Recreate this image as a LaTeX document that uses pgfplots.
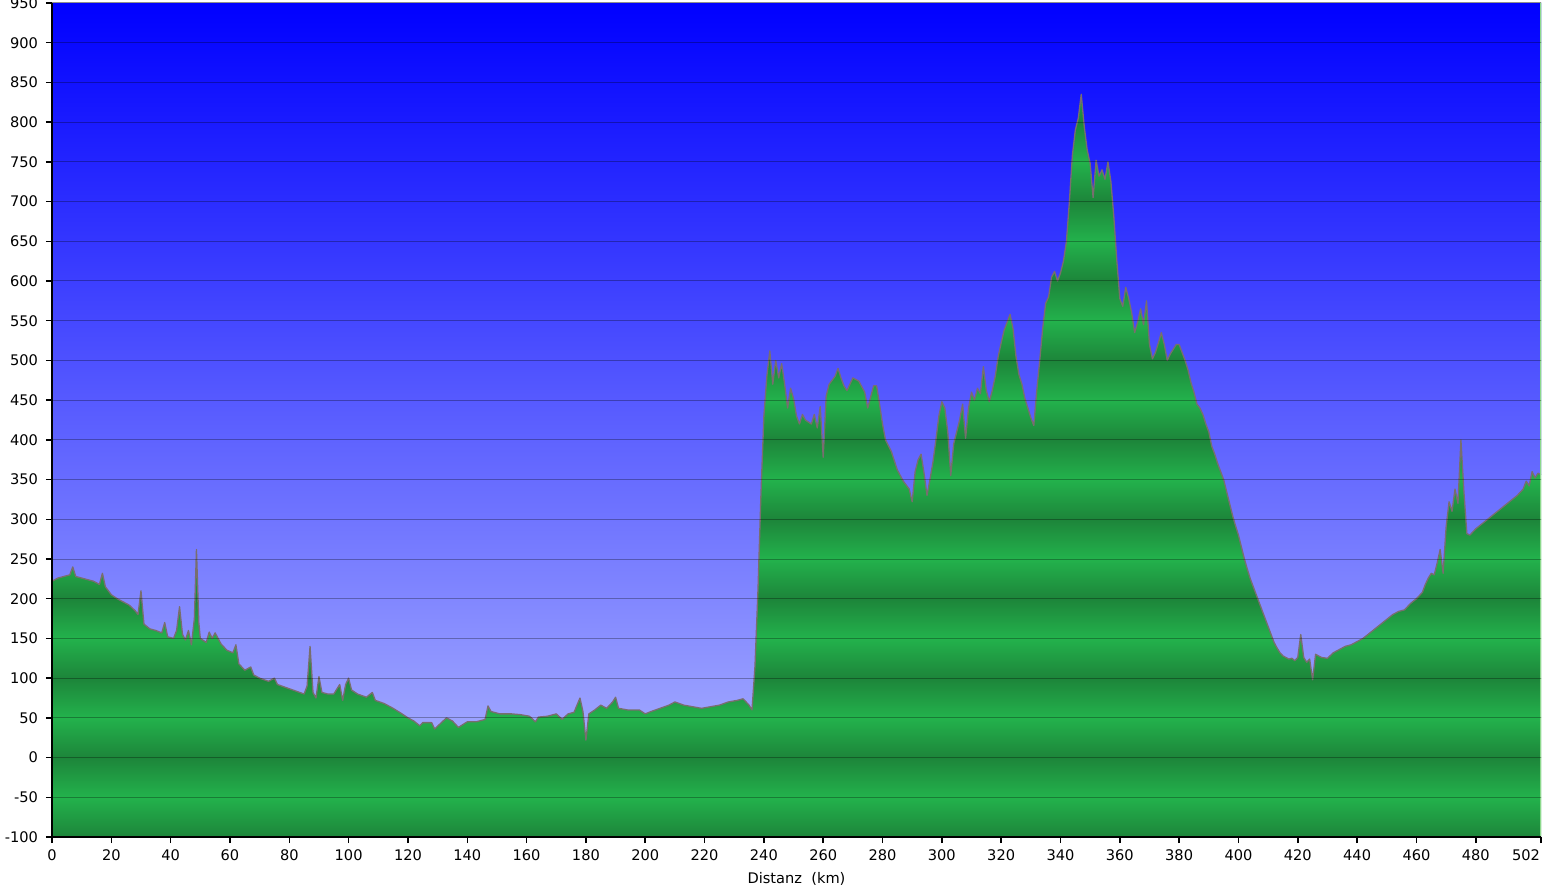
\documentclass[border=0pt]{standalone}
\usepackage{pgfplots}
\pgfplotsset{compat=1.18}
\usepackage{pgfplotstable}
\usepackage{fontspec}
\setmainfont{DejaVu Sans}
\definecolor{gD}{RGB}{29,133,58}
\definecolor{gL}{RGB}{35,178,76}
\definecolor{bTop}{RGB}{0,0,255}
\definecolor{bBot}{RGB}{160,167,255}
\definecolor{prof}{RGB}{120,110,110}
\pgfplotstableread{
x y
0 222
2 226
4 228
6 230
7 240
8 228
10 226
12 224
14 222
16 218
17 232
18 215
20 205
22 200
24 196
26 192
28 185
29 180
30 210
31 168
33 162
35 160
37 157
38 170
39 152
41 150
42 160
43 190
44 155
45 148
46 160
47 142
48 175
48.7 262
49.5 170
50 150
52 145
53 158
54 150
55 157
57 143
59 135
61 132
62 142
63 118
65 110
67 114
68 104
70 100
73 96
75 100
76 92
79 88
82 84
85 80
86 90
87 140
88 82
89 75
90 102
91 82
93 80
95 80
97 92
98 72
99 92
100 100
101 85
103 80
106 76
108 82
109 72
112 68
115 62
118 55
120 50
122 46
124 40
125 44
128 44
129 36
131 43
133 50
135 46
137 38
140 45
143 45
146 48
147 65
148 58
151 55
155 55
158 54
161 52
163 45
164 51
167 52
170 55
172 48
174 55
176 57
178 75
179 58
180 22
181 55
183 60
185 66
187 62
189 70
190 76
191 62
194 60
198 60
200 55
202 58
205 62
208 66
210 70
213 66
216 64
219 62
222 64
225 66
228 70
231 72
233 74
235 66
236 60
237 115
238 210
239 330
240 430
241 480
242 512
243 470
244 500
245 478
246 496
247 470
248 440
249 465
250 452
251 430
252 420
253 432
254 425
256 420
257 432
258 415
259 442
260 378
261 455
262 470
264 480
265 490
266 478
267 468
268 462
269 470
270 478
272 474
274 460
275 440
277 468
278 468
279 445
280 420
281 400
283 385
285 362
287 348
289 338
290 322
291 360
292 375
293 382
294 358
295 330
296 350
297 372
298 400
299 430
300 448
301 440
302 410
303 355
304 395
305 410
306 425
307 445
308 402
309 440
310 460
311 450
312 465
313 458
314 492
315 462
316 448
317 462
318 480
319 505
320 522
321 538
322 548
323 558
324 540
325 505
326 482
327 470
328 452
329 440
330 428
331 418
332 462
333 500
334 540
335 572
336 580
337 605
338 612
339 600
340 610
341 625
342 650
343 700
344 758
345 790
346 805
347 835
348 795
349 765
350 748
351 705
352 752
353 732
354 740
355 728
356 750
357 725
358 680
359 625
360 578
361 568
362 592
363 578
364 560
365 535
366 548
367 565
368 545
369 575
370 520
371 502
372 510
373 522
374 535
375 520
376 500
377 508
378 514
379 520
380 520
381 510
382 500
383 488
384 472
385 460
386 445
387 440
388 432
389 420
390 410
391 392
392 382
393 370
394 360
395 350
396 335
397 320
398 305
399 292
400 280
401 265
402 250
403 237
404 225
405 215
406 205
407 195
408 185
409 175
410 165
411 155
412 145
413 138
414 132
415 128
416 126
417 124
418 125
419 122
420 126
421 155
422 126
423 120
424 124
425 98
426 130
428 126
430 125
432 132
434 136
436 140
438 142
440 146
442 150
444 156
446 162
448 168
450 174
452 180
454 184
456 186
458 194
460 200
462 208
463 218
464 226
465 232
466 230
467 245
468 262
469 232
470 290
471 322
472 310
473 338
474 320
475 400
476 335
477 282
478 280
480 288
482 294
484 300
486 306
488 312
490 318
492 324
494 330
496 338
497 348
498 342
499 360
500 352
501 358
502 356
}\prof
\begin{document}
\begin{tikzpicture}
\path[use as bounding box] (-26pt,-28.5pt) rectangle (749.5pt,418.5pt);
\begin{axis}[
  scale only axis,
  width=744.5pt, height=417pt,
  xmin=0, xmax=502, ymin=-100, ymax=950,
  axis on top,
  axis lines*=left,
  axis line style={black, line width=1pt},
  tick align=outside,
  tick style={black, line width=0.75pt},
  major tick length=3pt,
  xtick={0,20,40,60,80,100,120,140,160,180,200,220,240,260,280,300,320,340,360,380,400,420,440,460,480,502},
  xticklabels={0,20,40,60,80,100,120,140,160,180,200,220,240,260,280,300,320,340,360,380,400,420,440,460,480,\makebox[0pt][r]{502\hspace{0.5pt}}},
  ytick={-100,-50,0,50,100,150,200,250,300,350,400,450,500,550,600,650,700,750,800,850,900,950},
  yticklabels={-100,-50,0,50,100,150,200,250,300,350,400,450,500,550,600,650,700,750,800,850,900,950},
  ticklabel style={font=\fontsize{7.3}{8.5}\selectfont},
  yticklabel style={xshift=-0.5pt},
  ymajorgrids,
  major grid style={black, opacity=0.3, line width=0.5pt},
  xlabel={Distanz\ \ (km)},
  xlabel style={font=\fontsize{7.3}{8.5}\selectfont, yshift=1pt},
]
\fill[bottom color=gD, top color=gL] (axis cs:0,-100) rectangle (axis cs:502,-50);
\fill[bottom color=gL, top color=gD] (axis cs:0,-50) rectangle (axis cs:502,0);
\fill[bottom color=gD, top color=gL] (axis cs:0,0) rectangle (axis cs:502,50);
\fill[bottom color=gL, top color=gD] (axis cs:0,50) rectangle (axis cs:502,100);
\fill[bottom color=gD, top color=gL] (axis cs:0,100) rectangle (axis cs:502,150);
\fill[bottom color=gL, top color=gD] (axis cs:0,150) rectangle (axis cs:502,200);
\fill[bottom color=gD, top color=gL] (axis cs:0,200) rectangle (axis cs:502,250);
\fill[bottom color=gL, top color=gD] (axis cs:0,250) rectangle (axis cs:502,300);
\fill[bottom color=gD, top color=gL] (axis cs:0,300) rectangle (axis cs:502,350);
\fill[bottom color=gL, top color=gD] (axis cs:0,350) rectangle (axis cs:502,400);
\fill[bottom color=gD, top color=gL] (axis cs:0,400) rectangle (axis cs:502,450);
\fill[bottom color=gL, top color=gD] (axis cs:0,450) rectangle (axis cs:502,500);
\fill[bottom color=gD, top color=gL] (axis cs:0,500) rectangle (axis cs:502,550);
\fill[bottom color=gL, top color=gD] (axis cs:0,550) rectangle (axis cs:502,600);
\fill[bottom color=gD, top color=gL] (axis cs:0,600) rectangle (axis cs:502,650);
\fill[bottom color=gL, top color=gD] (axis cs:0,650) rectangle (axis cs:502,700);
\fill[bottom color=gD, top color=gL] (axis cs:0,700) rectangle (axis cs:502,750);
\fill[bottom color=gL, top color=gD] (axis cs:0,750) rectangle (axis cs:502,800);
\fill[bottom color=gD, top color=gL] (axis cs:0,800) rectangle (axis cs:502,850);
\fill[bottom color=gL, top color=gD] (axis cs:0,850) rectangle (axis cs:502,900);
\fill[bottom color=gD, top color=gL] (axis cs:0,900) rectangle (axis cs:502,950);
\addplot[top color=bTop, bottom color=bBot, draw=none] table[x=x,y=y] {\prof} -- (axis cs:502,950) -- (axis cs:0,950) -- cycle;
\addplot[prof, line width=0.65pt, line join=round] table[x=x,y=y] {\prof};
\draw[gray!40, line width=0.5pt] (rel axis cs:0,1) -- (rel axis cs:1,1);
\draw[green!50!gray!60, line width=0.75pt] (rel axis cs:1,0) -- (rel axis cs:1,1);
\end{axis}
\end{tikzpicture}
\end{document}
